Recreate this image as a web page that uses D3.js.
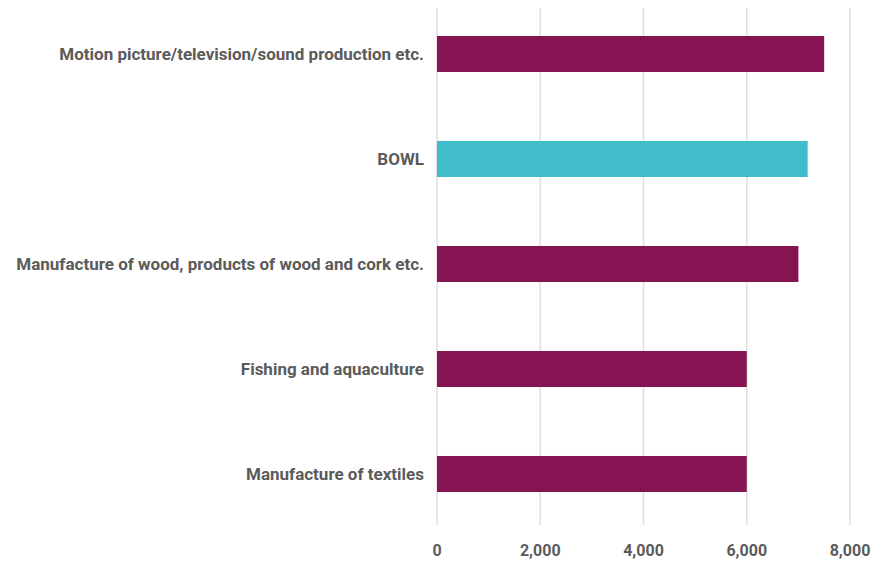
<!DOCTYPE html>
<html>
<head>
<meta charset="utf-8">
<script src="https://cdn.jsdelivr.net/npm/d3@7"></script>
<style>
  body { margin: 0; background: #fff; }
  svg text { font-family: Roboto, "Open Sans", sans-serif; font-weight: 700; fill: #5b5b5b; }
</style>
</head>
<body>
<div id="chart"></div>
<script>
const categories = [
  "Motion picture/television/sound production etc.",
  "BOWL",
  "Manufacture of wood, products of wood and cork etc.",
  "Fishing and aquaculture",
  "Manufacture of textiles"
];
const values = [7500, 7180, 7000, 6000, 6000];
const highlight = ["BOWL"];
const xTicks = [0, 2000, 4000, 6000, 8000];

const W = 878, H = 563;
const svg = d3.select("#chart").append("svg").attr("width", W).attr("height", H);

const x = d3.scaleLinear().domain([0, 8000]).range([437, 850]);
const y = d3.scaleBand().domain(categories).range([1.5, 526.5])
  .paddingInner(0.657).paddingOuter(0.3285);

// gridlines
svg.append("g").selectAll("line").data(xTicks).join("line")
  .attr("x1", d => x(d)).attr("x2", d => x(d))
  .attr("y1", 8).attr("y2", 525)
  .attr("stroke", "#e0e0e0").attr("stroke-width", 1.6);

// x tick labels
svg.append("g").selectAll("text").data(xTicks).join("text")
  .attr("x", d => x(d)).attr("y", 556)
  .attr("text-anchor", "middle").style("font-size", "16px")
  .text(d => d3.format(",")(d));

const rows = categories.map((c, i) => ({ cat: c, val: values[i] }));

svg.append("g").selectAll("rect").data(rows).join("rect")
  .attr("x", x(0)).attr("y", d => y(d.cat))
  .attr("width", d => x(d.val) - x(0)).attr("height", y.bandwidth())
  .attr("fill", d => highlight.includes(d.cat) ? "#41bccb" : "#861453");

svg.append("g").selectAll("text").data(rows).join("text")
  .attr("x", 424).attr("y", d => y(d.cat) + y.bandwidth() / 2)
  .attr("dy", "0.35em").attr("text-anchor", "end").style("font-size", "17px")
  .text(d => d.cat);
</script>
</body>
</html>
